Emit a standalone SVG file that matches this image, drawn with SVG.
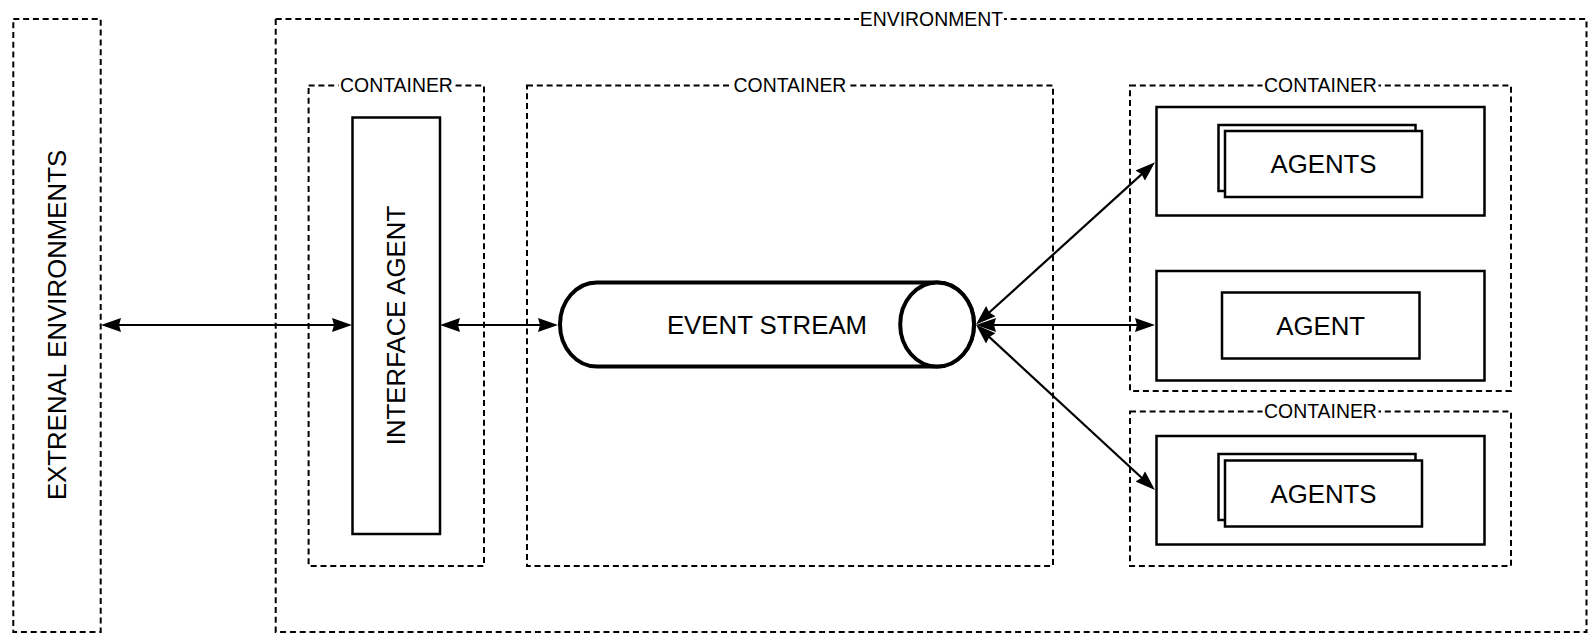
<svg xmlns="http://www.w3.org/2000/svg" width="1589" height="633" viewBox="0 0 1589 633">
  <style>
    .boundary { fill: none; stroke: #000; stroke-width: 2; stroke-dasharray: 6 3.8; }
    .box { fill: #fff; stroke: #000; stroke-width: 2.5; }
    .pipe { fill: #fff; stroke: #000; stroke-width: 4; }
    .label { font-family: "Liberation Sans", Arial, sans-serif; font-size: 19.4px; fill: #000; text-anchor: middle; }
    .name { font-family: "Liberation Sans", Arial, sans-serif; font-size: 25.8px; fill: #000; text-anchor: middle; }
    .label-bg { fill: #fff; }
    .link { fill: none; stroke: #000; stroke-width: 2.2; }
  </style>
  <defs>
    <marker id="head" markerUnits="userSpaceOnUse" markerWidth="22" markerHeight="16" refX="10" refY="7" orient="auto-start-reverse" viewBox="0 0 22 14">
      <path d="M0,0 L20,7 L0,14 L2,7 Z" fill="#000"/>
    </marker>
  </defs>

  <rect width="1589" height="633" fill="#fff"/>

  <!-- outside world -->
  <g id="external-environments">
    <rect class="boundary" x="13.3" y="19" width="87.4" height="613"/>
    <text class="name" transform="translate(65.5 325) rotate(-90)" x="0" y="0">EXTRENAL ENVIRONMENTS</text>
  </g>

  <!-- environment boundary -->
  <g id="environment">
    <rect class="boundary" x="275.7" y="19" width="1310.8" height="613"/>
    <rect class="label-bg" x="859" y="10" width="145" height="18"/>
    <text class="label" x="931.5" y="25.9">ENVIRONMENT</text>
  </g>

  <!-- interface container -->
  <g id="container-interface">
    <rect class="boundary" x="308.6" y="85.5" width="175.4" height="480.5"/>
    <rect class="label-bg" x="338.5" y="77" width="116" height="17"/>
    <text class="label" x="396.5" y="92.4">CONTAINER</text>
  </g>
  <g id="interface-agent">
    <rect class="box" x="352.5" y="117.5" width="87.5" height="416.5"/>
    <text class="name" transform="translate(405.4 325.5) rotate(-90)" x="0" y="0">INTERFACE AGENT</text>
  </g>

  <!-- event stream container -->
  <g id="container-stream">
    <rect class="boundary" x="527" y="85.5" width="526" height="480.5"/>
    <rect class="label-bg" x="732" y="77" width="116" height="17"/>
    <text class="label" x="790" y="92.4">CONTAINER</text>
  </g>
  <g id="event-stream">
    <path class="pipe" d="M596.9,282.5 L937.1,282.5 A36.9,42 0 0 1 937.1,366.5 L596.9,366.5 A36.9,42 0 0 1 596.9,282.5 Z"/>
    <ellipse class="pipe" cx="937.1" cy="324.5" rx="36.9" ry="42"/>
    <text class="name" x="767" y="334.2">EVENT STREAM</text>
  </g>

  <!-- upper agent container -->
  <g id="container-agents-top">
    <rect class="boundary" x="1130" y="85.5" width="381" height="305.5"/>
    <rect class="label-bg" x="1262.5" y="77" width="116" height="17"/>
    <text class="label" x="1320.5" y="92.4">CONTAINER</text>
  </g>
  <g id="agents-top">
    <rect class="box" x="1156.5" y="107" width="328" height="108.5"/>
    <rect class="box" x="1218.5" y="125" width="197" height="66"/>
    <rect class="box" x="1225" y="131" width="197" height="66"/>
    <text class="name" x="1323.5" y="173.2">AGENTS</text>
  </g>
  <g id="agent-single">
    <rect class="box" x="1156.5" y="271" width="328" height="109.5"/>
    <rect class="box" x="1222" y="292.5" width="197.5" height="66"/>
    <text class="name" x="1320.7" y="334.7">AGENT</text>
  </g>

  <!-- lower agent container -->
  <g id="container-agents-bottom">
    <rect class="boundary" x="1130" y="411.5" width="381" height="154.5"/>
    <rect class="label-bg" x="1262.5" y="403" width="116" height="17"/>
    <text class="label" x="1320.5" y="418.4">CONTAINER</text>
  </g>
  <g id="agents-bottom">
    <rect class="box" x="1156.5" y="436" width="328" height="108.5"/>
    <rect class="box" x="1218.5" y="454" width="197" height="66"/>
    <rect class="box" x="1225" y="460.5" width="197" height="66"/>
    <text class="name" x="1323.5" y="502.7">AGENTS</text>
  </g>

  <!-- two-way links -->
  <g id="connectors">
    <line class="link" x1="111" y1="325" x2="342" y2="325" marker-start="url(#head)" marker-end="url(#head)"/>
    <line class="link" x1="450" y1="325" x2="548" y2="325" marker-start="url(#head)" marker-end="url(#head)"/>
    <line class="link" x1="986" y1="325" x2="1145" y2="325" marker-start="url(#head)" marker-end="url(#head)"/>
    <line class="link" x1="983.4" y1="317.8" x2="1147.6" y2="168.9" marker-start="url(#head)" marker-end="url(#head)"/>
    <line class="link" x1="983.4" y1="331.6" x2="1147.6" y2="483.2" marker-start="url(#head)" marker-end="url(#head)"/>
  </g>
</svg>
